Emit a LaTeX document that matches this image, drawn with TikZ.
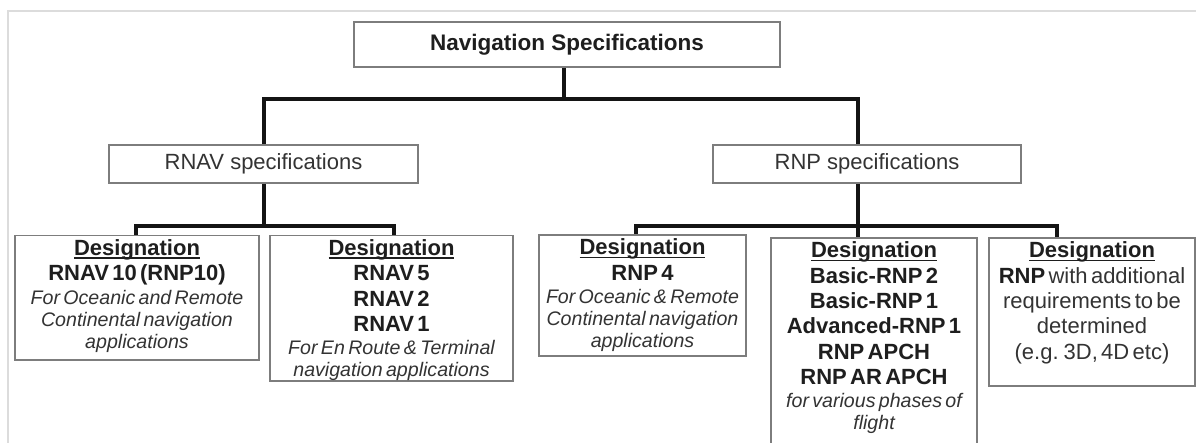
\documentclass[tikz,border=0pt]{standalone}
\usepackage{fontspec}
\setmainfont{Liberation Sans}
\definecolor{boxgray}{HTML}{7D7D7D}
\definecolor{txt}{HTML}{1E1E1E}
\definecolor{itx}{HTML}{333333}
\definecolor{framec}{HTML}{DCDCDC}
\newcommand\DesUl[1]{\setbox0=\hbox{#1}\rlap{\rule[-3.3pt]{\wd0}{1.7pt}}\box0}
\newcommand\bfnt{\fontsize{22}{25.3}\selectfont\bfseries}
\newcommand\ifnt{\vspace{1.5pt}\fontsize{19.6}{22}\selectfont\mdseries\itshape\color{itx}}
\newcommand\rfnt{\fontsize{22}{25.3}\selectfont\mdseries\color{itx}}
\begin{document}
\begin{tikzpicture}[x=1pt,y=-1pt,
  box/.style={draw=boxgray, line width=1.8pt, inner sep=0pt, fill=white, text=txt},
  sbox/.style={box, font=\fontsize{22}{25}\selectfont},
  dbox/.style={box, anchor=base, align=center, text height=20pt},
  conn/.style={line width=3.4pt, draw=black!92, line join=miter}]
\useasboundingbox (0,0) rectangle (1196,443);
\draw[framec, line width=1.5pt] (8,443) -- (8,11) -- (1196,11);

\node[sbox, minimum width=426pt, minimum height=45pt, font=\fontsize{22.5}{26}\selectfont\bfseries] (top) at (567,44.5) {Navigation Specifications};
\node[sbox, minimum width=309pt, minimum height=38pt, text=itx] (rnav) at (263.5,164) {RNAV specifications};
\node[sbox, minimum width=308pt, minimum height=38pt, text=itx] (rnp) at (867,164) {RNP specifications};

\node[dbox, text width=244pt, text depth=104.5pt] (b1) at (137,255.5)
 {\bfnt\DesUl{Designation}\\RNAV 10 (RNP10)\par\ifnt For Oceanic and Remote\\Continental navigation\\applications\par};
\node[dbox, text width=243pt, text depth=125.5pt] (b2) at (391.5,255.5)
 {\bfnt\DesUl{Designation}\\RNAV 5\\RNAV 2\\RNAV 1\par\ifnt For En Route \& Terminal\\navigation applications\par};
\node[dbox, text width=207pt, text depth=101pt] (b3) at (642.5,255)
 {\bfnt\DesUl{Designation}\\RNP 4\par\ifnt For Oceanic \& Remote\\Continental navigation\\applications\par};
\node[dbox, text width=206pt, text depth=202pt] (b4) at (874,258)
 {\bfnt\DesUl{Designation}\\Basic-RNP 2\\Basic-RNP 1\\Advanced-RNP 1\\RNP APCH\\RNP AR APCH\par\ifnt for various phases of\\flight\par};
\node[dbox, text width=206pt, text depth=128pt] (b5) at (1092,258)
 {\bfnt\DesUl{Designation}\par\rfnt{\bfseries\color{txt}RNP} with additional\\requirements to be\\determined\\(e.g. 3D, 4D etc)\par};

\coordinate (j0) at (564,99);
\coordinate (jl) at (264,226);
\coordinate (jr) at (858,226);
\coordinate (s1) at (136,0);
\coordinate (s2) at (394,0);
\coordinate (s3) at (636,0);
\coordinate (s5) at (1057,0);

\draw[conn] (top.south -| j0) -- (j0);
\draw[conn] (rnav.north -| jl) |- (j0) -| (rnp.north -| jr);
\draw[conn] (rnav.south -| jl) -- (jl);
\draw[conn] (b1.north -| s1) |- (jl) -| (b2.north -| s2);
\draw[conn] (rnp.south -| jr) -- (b4.north -| jr);
\draw[conn] (b3.north -| s3) |- (jr) -| (b5.north -| s5);
\end{tikzpicture}
\end{document}
